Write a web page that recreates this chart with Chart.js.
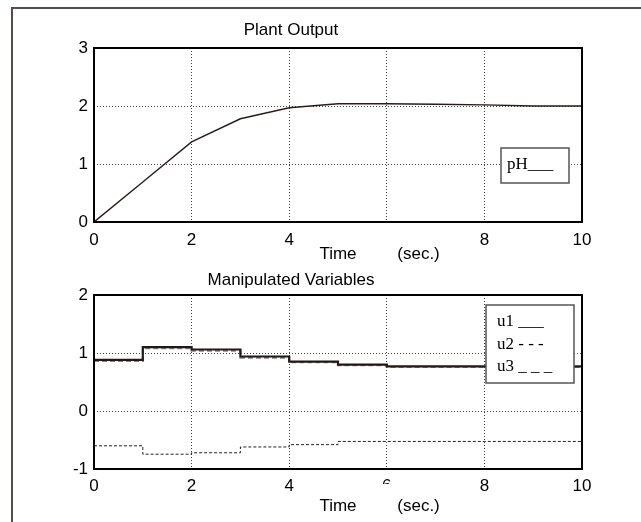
<!DOCTYPE html>
<html>
<head>
<meta charset="utf-8">
<script src="https://cdn.jsdelivr.net/npm/chart.js@4.4.0/dist/chart.umd.min.js"></script>
<style>
body{margin:0;background:#fff;}
#page{position:relative;width:641px;height:522px;overflow:hidden;}
#frame{position:absolute;left:11px;top:7px;width:640px;height:520px;border-left:2px solid #554c4c;border-top:2px solid #554c4c;}
#chart-1{position:absolute;left:0;top:0;}
#chart-2{position:absolute;left:0;top:262px;}
</style>
</head>
<body>
<div id="page">
<div id="frame"></div>
<canvas id="chart-1" width="641" height="270"></canvas>
<canvas id="chart-2" width="641" height="260"></canvas>
</div>
<script>
// sample times (sec.)
const time = [0, 1, 2, 3, 4, 5, 6, 7, 8, 9, 10];
// plant output
const pH = [0, 0.69, 1.38, 1.78, 1.97, 2.04, 2.04, 2.03, 2.02, 2.0, 2.0];
// manipulated variables (held between samples)
const u1 = [0.88, 1.10, 1.06, 0.94, 0.85, 0.80, 0.77, 0.77, 0.77, 0.77, 0.77];
const u2 = [-0.60, -0.745, -0.72, -0.62, -0.58, -0.525, -0.525, -0.525, -0.525, -0.525, -0.525];
const u3 = [0.86, 1.08, 1.04, 0.92, 0.84, 0.79, 0.76, 0.76, 0.76, 0.76, 0.76];

const xTicks = [0, 2, 4, 6, 8, 10];
const legendTop = ['pH___'];
const legendBottom = ['u1 ___', 'u2 - - -', 'u3 _ _ _'];

const SANS = '"Liberation Sans", Arial, Helvetica, sans-serif';
const SERIF = '"Liberation Serif", "Times New Roman", serif';

Chart.defaults.font.family = SANS;
Chart.defaults.font.size = 17;
Chart.defaults.color = '#000';

function pts(ys) {
    return time.map((t, i) => ({x: t, y: ys[i]}));
}

// black frame round the plot area
const plotFrame = {
    id: 'plotFrame',
    afterDraw(chart) {
        const {ctx, chartArea: a} = chart;
        ctx.save();
        ctx.strokeStyle = '#000';
        ctx.lineWidth = 2;
        ctx.strokeRect(a.left, a.top, a.right - a.left, a.bottom - a.top);
        ctx.restore();
    }
};

// "Time   (sec.)" label with its white background
const timeLabel = {
    id: 'timeLabel',
    afterDraw(chart, args, opts) {
        const {ctx, chartArea: a, scales: {x}} = chart;
        const y = a.bottom + opts.offset;
        ctx.save();
        ctx.font = '17px ' + SANS;
        const x1 = x.getPixelForValue(opts.timeAt);
        const x2 = x.getPixelForValue(opts.secAt);
        const w1 = ctx.measureText('Time').width;
        const w2 = ctx.measureText('(sec.)').width;
        ctx.fillStyle = '#fff';
        ctx.fillRect(x1 - w1 / 2 - 4, y - 22, (x2 + w2 / 2 + 4) - (x1 - w1 / 2 - 4), 34);
        ctx.fillStyle = '#000';
        ctx.textAlign = 'center';
        ctx.textBaseline = 'middle';
        ctx.fillText('Time', x1, y);
        ctx.fillText('(sec.)', x2, y);
        ctx.restore();
    }
};

// text legend box inside the plot
const boxLegend = {
    id: 'boxLegend',
    afterDatasetsDraw(chart, args, opts) {
        const {ctx, chartArea: a} = chart;
        const left = a.left + opts.left, top = a.top + opts.top;
        ctx.save();
        ctx.fillStyle = '#fff';
        ctx.fillRect(left, top, opts.width, opts.height);
        ctx.strokeStyle = '#555';
        ctx.lineWidth = 1.5;
        ctx.strokeRect(left, top, opts.width, opts.height);
        ctx.font = '17px ' + SERIF;
        ctx.fillStyle = '#000';
        ctx.textBaseline = 'middle';
        opts.rows.forEach((r, i) => {
            ctx.fillText(r, left + opts.pad, top + opts.first + i * opts.step);
        });
        ctx.restore();
    }
};

function xAxis(pad, h) {
    return {
        type: 'linear',
        min: 0,
        max: 10,
        afterFit: s => { s.height = h; },
        afterBuildTicks: s => { s.ticks = xTicks.map(v => ({value: v})); },
        ticks: {padding: pad, maxRotation: 0},
        grid: {
            color: c => (c.tick && (c.tick.value === 0 || c.tick.value === 10)) ? 'rgba(0,0,0,0)' : '#444',
            lineWidth: 1,
            drawTicks: false
        },
        border: {display: false, dash: [1, 2]}
    };
}

function yAxis(lo, hi) {
    return {
        min: lo,
        max: hi,
        afterFit: s => { s.width = 94; },
        ticks: {stepSize: 1, padding: 6},
        grid: {
            color: c => (c.tick && (c.tick.value === lo || c.tick.value === hi)) ? 'rgba(0,0,0,0)' : '#444',
            lineWidth: 1,
            drawTicks: false
        },
        border: {display: false, dash: [1, 2]}
    };
}

const plant = new Chart(document.getElementById('chart-1'), {
    type: 'line',
    data: {
        datasets: [{
            label: 'pH',
            data: pts(pH),
            borderColor: '#2a1c1c',
            borderWidth: 1.4,
            pointRadius: 0,
            tension: 0
        }]
    },
    options: {
        responsive: false,
        animation: false,
        layout: {padding: {left: 0, right: 59, top: 0, bottom: 0}},
        scales: {
            x: xAxis(7.8, 48),
            y: yAxis(0, 3)
        },
        plugins: {
            legend: {display: false},
            tooltip: {enabled: false},
            title: {
                display: true,
                text: 'Plant Output',
                font: {size: 17, weight: 'normal'},
                color: '#000',
                padding: {top: 19.8, bottom: 7.8}
            },
            timeLabel: {offset: 32, timeAt: 5.0, secAt: 6.65},
            boxLegend: {left: 407, top: 100, width: 68, height: 35, pad: 6, first: 17, step: 0, rows: legendTop}
        }
    },
    plugins: [boxLegend, plotFrame, timeLabel]
});

const manip = new Chart(document.getElementById('chart-2'), {
    type: 'line',
    data: {
        datasets: [{
            label: 'u1',
            data: pts(u1),
            stepped: 'before',
            borderColor: '#231818',
            borderWidth: 2.2,
            pointRadius: 0
        }, {
            label: 'u2',
            data: pts(u2),
            stepped: 'before',
            borderColor: '#222',
            borderWidth: 1,
            borderDash: [3, 2],
            pointRadius: 0
        }, {
            label: 'u3',
            data: pts(u3),
            stepped: 'before',
            borderColor: '#8a8080',
            borderWidth: 2,
            borderDash: [5, 3],
            pointRadius: 0
        }]
    },
    options: {
        responsive: false,
        animation: false,
        layout: {padding: {left: 0, right: 59, top: 0, bottom: 0}},
        scales: {
            x: xAxis(6.8, 53),
            y: yAxis(-1, 2)
        },
        plugins: {
            legend: {display: false},
            tooltip: {enabled: false},
            title: {
                display: true,
                text: 'Manipulated Variables',
                font: {size: 17, weight: 'normal'},
                color: '#000',
                padding: {top: 7.8, bottom: 4.8}
            },
            timeLabel: {offset: 37, timeAt: 5.0, secAt: 6.65},
            boxLegend: {left: 392, top: 10, width: 88, height: 78, pad: 11, first: 17, step: 22.5, rows: legendBottom}
        }
    },
    plugins: [boxLegend, plotFrame, timeLabel]
});
</script>
</body>
</html>
